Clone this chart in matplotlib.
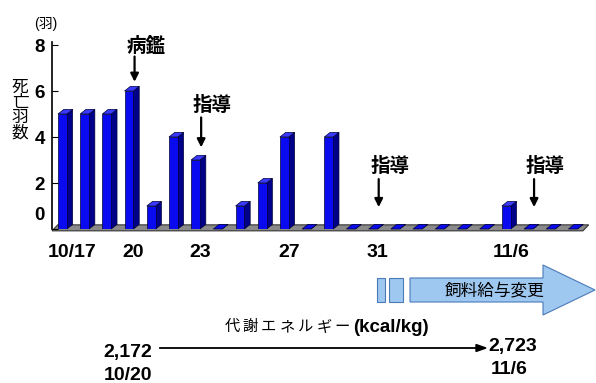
import matplotlib.pyplot as plt
from matplotlib.patches import Polygon, Rectangle
from matplotlib.lines import Line2D
from matplotlib.transforms import ScaledTranslation

plt.rcParams['font.family'] = ['Liberation Sans', 'Noto Sans CJK JP']

# deaths per day, 10/17 .. 11/9
dates = ['10/17', '10/18', '10/19', '10/20', '10/21', '10/22', '10/23', '10/24',
         '10/25', '10/26', '10/27', '10/28', '10/29', '10/30', '10/31', '11/1',
         '11/2', '11/3', '11/4', '11/5', '11/6', '11/7', '11/8', '11/9']
deaths = [5, 5, 5, 6, 1, 4, 3, 0, 1, 2, 4, 0, 4, 0, 0, 0, 0, 0, 0, 0, 1, 0, 0, 0]
tick_dates = ['10/17', '10/20', '10/23', '10/27', '10/31', '11/6']
tick_labels = ['10/17', '20', '23', '27', '31', '11/6']
# (date, label, text level, arrow start, arrow end)
events = [('10/20', '病鑑', 7.92, 7.5, 6.4),
          ('10/23', '指導', 5.37, 4.85, 3.55),
          ('10/31', '指導', 2.73, 2.17, 0.95),
          ('11/7', '指導', 2.73, 2.17, 0.95)]
energy_label = '代謝エネルギー'

W, H = 596, 383
fig = plt.figure(figsize=(W / 100, H / 100), dpi=100)

def fx(px):
    return px / W

def fy(py):
    return 1 - py / H

ax = fig.add_axes([fx(52), fy(229), fx(590) - fx(52), fy(45) - fy(229)])
xs = list(range(len(dates)))
ax.set_xlim(-0.47, 23.77)
ax.set_ylim(0, 8)

w = 0.4
dx, dy = 0.26, 0.2
front = '#0a0af0'
side = '#000088'
top = '#3a3aff'

# floor
xl, xr = -0.47, 23.45
ax.add_patch(Polygon([(xl, -0.08), (xr, -0.08), (xr + dx, dy - 0.02), (xl + dx, dy - 0.02)],
                     closed=True, fc='#8a8a8a', ec='#333333', lw=0.8, clip_on=False, zorder=1))

ax.bar(xs, deaths, width=w, color=front, edgecolor='#000033', linewidth=0.5, zorder=3)
for x, v in zip(xs, deaths):
    r = x + w / 2
    l = x - w / 2
    ax.add_patch(Polygon([(r, 0), (r + dx, dy), (r + dx, v + dy), (r, v)], closed=True,
                         fc=side, ec='#000033', lw=0.5, zorder=2, clip_on=False))
    ax.add_patch(Polygon([(l, v), (l + dx, v + dy), (r + dx, v + dy), (r, v)], closed=True,
                         fc=top if v > 0 else front, ec='#000033', lw=0.5, zorder=4, clip_on=False))

for s in ['top', 'right', 'bottom']:
    ax.spines[s].set_visible(False)
ax.spines['left'].set_linewidth(1.2)
ax.spines['left'].set_bounds(0, 8.15)
ax.set_xticks([])
ax.set_yticks([0, 2, 4, 6, 8])
ax.set_yticklabels(['0', '2', '4', '6', '8'], fontsize=13.5, fontweight='bold')
ax.tick_params(axis='y', direction='in', length=4, pad=5)
zero_lab = ax.get_yticklabels()[0]
zero_lab.set_transform(zero_lab.get_transform() + ScaledTranslation(0, 0.16, fig.dpi_scale_trans))

for d, lab in zip(tick_dates, tick_labels):
    off = 0.45 if d == '10/17' else 0.2
    ax.text(dates.index(d) + off, -1.03, lab, ha='center', va='center',
            fontsize=14, fontweight='bold', clip_on=False)

for d, lab, yt, y0, y1 in events:
    x = dates.index(d) + 0.25
    ax.annotate('', xy=(x, y1), xytext=(x, y0),
                arrowprops=dict(arrowstyle='-|>', color='black', lw=1.6,
                                mutation_scale=12, shrinkA=0, shrinkB=0))
    ax.text(x + 0.5, yt, lab, ha='center', va='center', fontsize=14,
            fontweight='bold', clip_on=False)

fig.text(fx(46), fy(24), '(羽)', ha='center', va='center', fontsize=10)
fig.text(fx(20), fy(110), '死\n亡\n羽\n数', ha='center', va='center', fontsize=12,
         linespacing=1.0)

# feed change block arrow
blue_fill, blue_edge = '#9fc8f0', '#4a7ab8'
fig.patches.append(Rectangle((fx(377), fy(302)), fx(385) - fx(377), fy(278) - fy(302),
                             transform=fig.transFigure, fc=blue_fill, ec=blue_edge, lw=0.8))
fig.patches.append(Rectangle((fx(389), fy(302)), fx(403) - fx(389), fy(278) - fy(302),
                             transform=fig.transFigure, fc=blue_fill, ec=blue_edge, lw=0.8))
fig.patches.append(Polygon([(fx(410), fy(278)), (fx(543), fy(278)), (fx(543), fy(265)),
                            (fx(595), fy(290)), (fx(543), fy(315)), (fx(543), fy(302)),
                            (fx(410), fy(302))], closed=True, transform=fig.transFigure,
                           fc=blue_fill, ec=blue_edge, lw=0.8))
fig.text(fx(495), fy(290), '飼料給与変更', ha='center', va='center', fontsize=12)

# metabolic energy
for i, ch in enumerate(energy_label):
    fig.text(fx(232 + 18.4 * i), fy(327), ch, ha='center', va='center', fontsize=11)
fig.text(fx(353), fy(327), '(kcal/kg)', ha='left', va='center', fontsize=13.5,
         fontweight='bold')
fig.add_artist(Line2D([fx(160), fx(478)], [fy(348), fy(348)], color='black', lw=1.3))
fig.patches.append(Polygon([(fx(476), fy(344.5)), (fx(486), fy(348)), (fx(476), fy(351.5))],
                           closed=True, transform=fig.transFigure, fc='black', ec='black'))
fig.text(fx(128), fy(353), '2,172', ha='center', va='center', fontsize=14, fontweight='bold')
fig.text(fx(128), fy(375), '10/20', ha='center', va='center', fontsize=14, fontweight='bold')
fig.text(fx(513), fy(347), '2,723', ha='center', va='center', fontsize=14, fontweight='bold')
fig.text(fx(509), fy(370), '11/6', ha='center', va='center', fontsize=14, fontweight='bold')

fig.savefig('out.png', dpi=100)
